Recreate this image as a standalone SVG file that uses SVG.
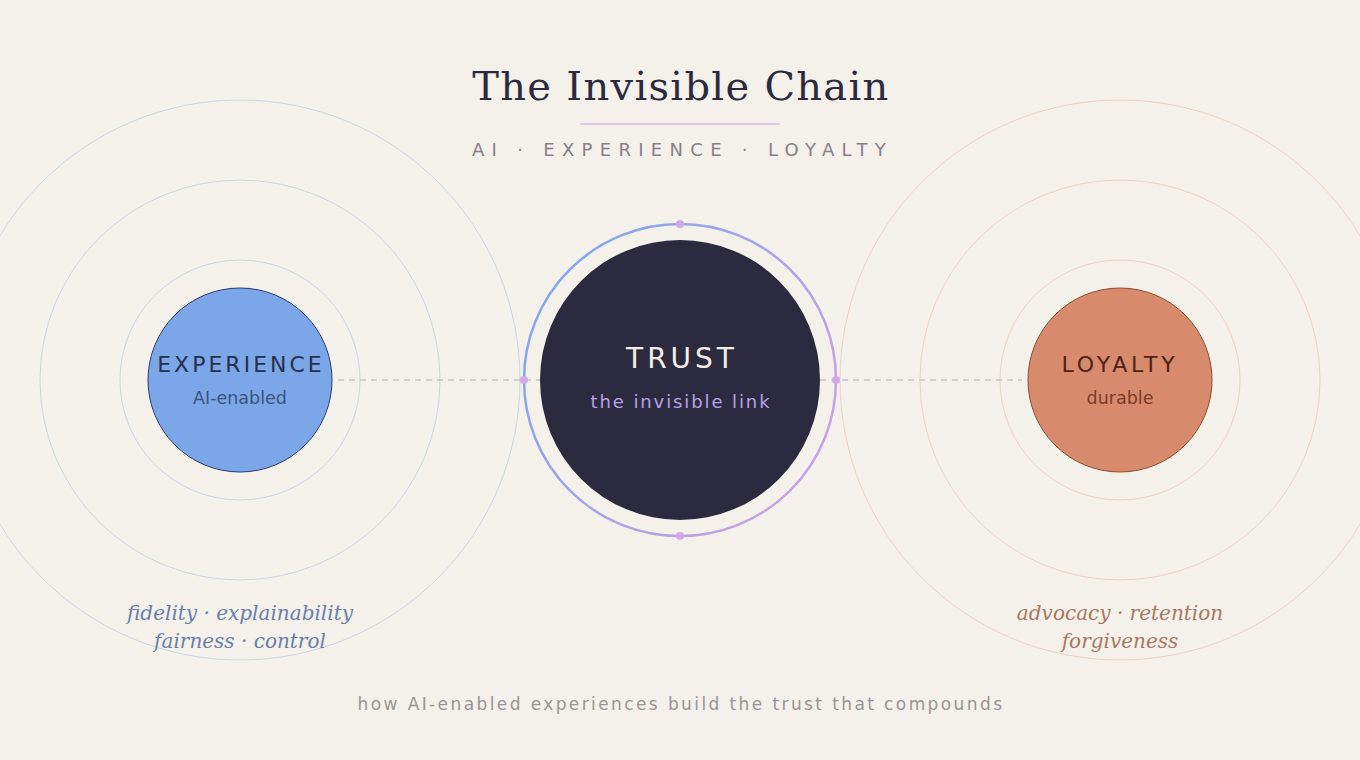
<svg xmlns="http://www.w3.org/2000/svg" width="1360" height="760" viewBox="0 0 1360 760">
<defs>
<linearGradient id="ring" x1="0" y1="0.2" x2="1" y2="0.8">
<stop offset="0.1" stop-color="#86a6ee"/>
<stop offset="0.9" stop-color="#c6a2e6"/>
</linearGradient>
<style>
.sans{font-family:"DejaVu Sans",sans-serif}
.serif{font-family:"DejaVu Serif",serif}
.ringL{fill:none;stroke:#c9d6e6;stroke-width:1}
.ringR{fill:none;stroke:#eed2c2;stroke-width:1}
.conn{stroke:#c4c2c6;stroke-width:1.5;stroke-dasharray:6 5;fill:none}
.dot{fill:#d2aaea}
</style>
</defs>
<rect width="1360" height="760" fill="#f4f0ea"/>
<g id="title">
<text x="681" y="100" text-anchor="middle" class="serif" font-size="40" letter-spacing="1.3" fill="#2b2a3e">The Invisible Chain</text>
<line x1="580" y1="124" x2="780" y2="124" stroke="#dcc9e8" stroke-width="2"/>
<text x="682.5" y="156" text-anchor="middle" class="sans" font-size="18" letter-spacing="7.3" fill="#85808a">AI · EXPERIENCE · LOYALTY</text>
</g>
<g id="rings-left">
<circle cx="240" cy="380" r="120" class="ringL"/>
<circle cx="240" cy="380" r="200" class="ringL"/>
<circle cx="240" cy="380" r="280" class="ringL"/>
</g>
<g id="rings-right">
<circle cx="1120" cy="380" r="120" class="ringR"/>
<circle cx="1120" cy="380" r="200" class="ringR"/>
<circle cx="1120" cy="380" r="280" class="ringR"/>
</g>
<g id="connectors">
<line x1="338" y1="380" x2="540" y2="380" class="conn"/>
<line x1="820" y1="380" x2="1022" y2="380" class="conn"/>
</g>
<g id="experience">
<circle cx="240" cy="380" r="92" fill="#7ba7e8" stroke="#2c3c6c" stroke-width="1"/>
<text x="241" y="372" text-anchor="middle" class="sans" font-size="22" letter-spacing="3" fill="#27304c">EXPERIENCE</text>
<text x="240" y="404" text-anchor="middle" class="sans" font-size="17.5" fill="#3e5282">AI-enabled</text>
<text x="240" y="620" text-anchor="middle" class="serif" font-style="italic" font-size="20" fill="#6a80aa">fidelity · explainability</text>
<text x="240" y="648" text-anchor="middle" class="serif" font-style="italic" font-size="20" fill="#6a80aa">fairness · control</text>
</g>
<g id="trust">
<circle cx="680" cy="380" r="156" fill="none" stroke="url(#ring)" stroke-width="2.5"/>
<circle cx="680" cy="380" r="140" fill="#2c2a3e"/>
<circle cx="680" cy="224" r="4" class="dot"/>
<circle cx="680" cy="536" r="4" class="dot"/>
<circle cx="524" cy="380" r="4" class="dot"/>
<circle cx="836" cy="380" r="4" class="dot"/>
<text x="682" y="368" text-anchor="middle" class="sans" font-size="28" letter-spacing="4" fill="#f6efe6">TRUST</text>
<text x="681" y="408" text-anchor="middle" class="sans" font-size="18" letter-spacing="1.9" fill="#b7a0ea">the invisible link</text>
</g>
<g id="loyalty">
<circle cx="1120" cy="380" r="92" fill="#d88b6c" stroke="#8c4a30" stroke-width="1"/>
<text x="1120" y="372" text-anchor="middle" class="sans" font-size="22" letter-spacing="3.8" fill="#4e2418">LOYALTY</text>
<text x="1120" y="404" text-anchor="middle" class="sans" font-size="17.5" fill="#7a3c28">durable</text>
<text x="1120" y="620" text-anchor="middle" class="serif" font-style="italic" font-size="20" fill="#a87862">advocacy · retention</text>
<text x="1120" y="648" text-anchor="middle" class="serif" font-style="italic" font-size="20" fill="#a87862">forgiveness</text>
</g>
<g id="footer">
<text x="681" y="710" text-anchor="middle" class="sans" font-size="17" letter-spacing="2.4" fill="#9a9494">how AI-enabled experiences build the trust that compounds</text>
</g>
</svg>
